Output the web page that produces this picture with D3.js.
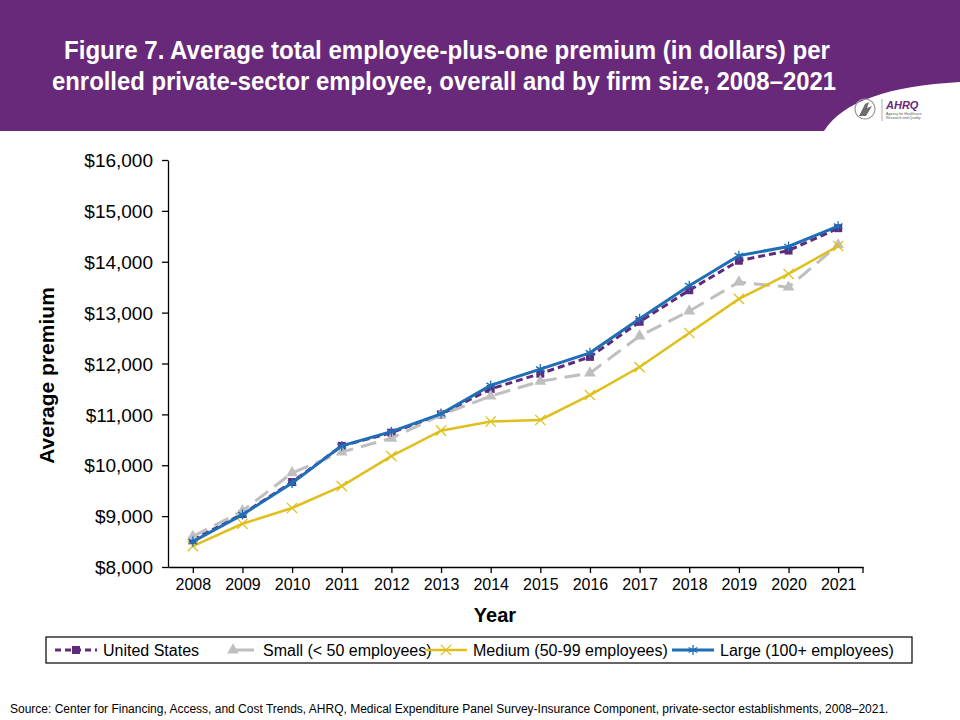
<!DOCTYPE html>
<html>
<head>
<meta charset="utf-8">
<script src="https://cdn.jsdelivr.net/npm/d3@7"></script>
<style>
  body { margin: 0; background: #fff; }
  svg { display: block; font-family: "Liberation Sans", Arial, sans-serif; }
</style>
</head>
<body>
<svg width="960" height="720"></svg>
<script>
// ---- data ----
const years = [2008, 2009, 2010, 2011, 2012, 2013, 2014, 2015, 2016, 2017, 2018, 2019, 2020, 2021];
const usValues     = [8530, 9040, 9670, 10380, 10640, 11000, 11500, 11800, 12130, 12820, 13440, 14020, 14220, 14660];
const smallValues  = [8600, 9100, 9850, 10260, 10530, 10990, 11360, 11650, 11810, 12540, 13030, 13600, 13500, 14330];
const mediumValues = [8410, 8850, 9160, 9590, 10180, 10680, 10860, 10890, 11380, 11930, 12600, 13270, 13760, 14310];
const largeValues  = [8500, 9030, 9650, 10380, 10660, 11010, 11570, 11890, 12210, 12880, 13530, 14120, 14300, 14700];
const yTicks = [8000, 9000, 10000, 11000, 12000, 13000, 14000, 15000, 16000];
const seriesNames = ["United States", "Small (< 50 employees)", "Medium (50-99 employees)", "Large (100+ employees)"];

const titleLines = [
  "Figure 7. Average total employee-plus-one premium (in dollars) per",
  "enrolled private-sector employee, overall and by firm size, 2008\u20132021"
];
const sourceText = "Source: Center for Financing, Access, and Cost Trends, AHRQ, Medical Expenditure Panel Survey-Insurance Component, private-sector establishments, 2008\u20132021.";

const svg = d3.select("svg");
const W = +svg.attr("width");

// ---- header band ----
const purple = "#68297a";
svg.append("rect").attr("x", 0).attr("y", 0).attr("width", W).attr("height", 131).attr("fill", purple);
svg.append("path").attr("d", "M824,131 C842,102 888,86 960,82 L960,131 Z").attr("fill", "#fff");

// title is a condensed bold face in the original -> squeeze to its width
const titleWidths = [766, 784];
svg.append("g").selectAll("text").data(titleLines).join("text")
  .attr("x", (d, i) => i === 0 ? 447 : 444).attr("y", (d, i) => 59 + i * 31)
  .attr("text-anchor", "middle")
  .attr("fill", "#fff")
  .attr("textLength", (d, i) => titleWidths[i])
  .attr("lengthAdjust", "spacingAndGlyphs")
  .style("font-weight", "bold").style("font-size", "25px")
  .text(d => d);

// small AHRQ logo
const logo = svg.append("g").attr("transform", "translate(853,96)");
logo.append("circle").attr("cx", 12).attr("cy", 13).attr("r", 10).attr("fill", "none").attr("stroke", "#9a9a9a").attr("stroke-width", 1.2);
logo.append("path").attr("d", "M6,20 L12,8 L16,6 L14,12 L19,10 L13,20 Z").attr("fill", "#6d6d6d");
logo.append("line").attr("x1", 29).attr("x2", 29).attr("y1", 3).attr("y2", 25).attr("stroke", "#aaa");
logo.append("text").attr("x", 33).attr("y", 13).attr("fill", purple)
  .style("font-weight", "bold").style("font-style", "italic").style("font-size", "11px").text("AHRQ");
logo.append("text").attr("x", 33).attr("y", 19).attr("fill", "#555").style("font-size", "3.6px").text("Agency for Healthcare");
logo.append("text").attr("x", 33).attr("y", 23).attr("fill", "#555").style("font-size", "3.6px").text("Research and Quality");

// ---- chart ----
const plot = {left: 168, right: 863, top: 160, bottom: 567};

const x = d3.scalePoint().domain(years).range([plot.left, plot.right]).padding(0.5);
const y = d3.scaleLinear().domain([8000, 16000]).range([plot.bottom, plot.top]);

const yAxis = d3.axisLeft(y).tickValues(yTicks).tickSize(6).tickSizeOuter(0)
  .tickFormat(d => "$" + d3.format(",")(d));
const gy = svg.append("g").attr("transform", `translate(${plot.left},0)`).call(yAxis);
gy.selectAll("text").style("font-size", "19px").attr("fill", "#000").attr("x", -15).attr("dy", "0.35em");
gy.selectAll("line, path").attr("stroke", "#000").attr("stroke-width", 1.3);

const xAxis = d3.axisBottom(x).tickSize(6).tickSizeOuter(0);
const gx = svg.append("g").attr("transform", `translate(0,${plot.bottom})`).call(xAxis);
gx.selectAll("text").style("font-size", "16px").attr("fill", "#000").attr("y", 12);
gx.selectAll("line, path").attr("stroke", "#000").attr("stroke-width", 1.3);
gx.append("line").attr("x1", x.range()[1]).attr("x2", x.range()[1]).attr("y1", 0).attr("y2", 6)
  .attr("stroke", "#000").attr("stroke-width", 1.3);

svg.append("text").attr("x", 495).attr("y", 622).attr("text-anchor", "middle")
  .style("font-weight", "bold").style("font-size", "20px").text("Year");
svg.append("text").attr("transform", `translate(54,${(plot.top + plot.bottom) / 2 + 12}) rotate(-90)`)
  .attr("text-anchor", "middle").style("font-weight", "bold").style("font-size", "21px").text("Average premium");

const series = [
  {name: seriesNames[0], values: usValues, color: "#5f2b7e", dash: "7,4", width: 3, symbol: d3.symbolSquare, size: 64, fillSym: true},
  {name: seriesNames[1], values: smallValues, color: "#bfbfbf", dash: "16,8", width: 3, symbol: d3.symbolTriangle, size: 60, fillSym: true},
  {name: seriesNames[2], values: mediumValues, color: "#e0bf1c", dash: null, width: 2.5, symbol: d3.symbolTimes, size: 70, fillSym: false},
  {name: seriesNames[3], values: largeValues, color: "#1f6fb6", dash: null, width: 3, symbol: d3.symbolAsterisk, size: 70, fillSym: false}
];

const line = d3.line().x((d, i) => x(years[i])).y(d => y(d));

series.forEach(s => {
  const g = svg.append("g");
  g.append("path").attr("d", line(s.values)).attr("fill", "none")
    .attr("stroke", s.color).attr("stroke-width", s.width)
    .attr("stroke-dasharray", s.dash);
  g.selectAll("path.m").data(s.values).join("path").attr("class", "m")
    .attr("transform", (d, i) => `translate(${x(years[i])},${y(d)})`)
    .attr("d", d3.symbol(s.symbol, s.size))
    .attr("fill", s.fillSym ? s.color : "none")
    .attr("stroke", s.color).attr("stroke-width", s.fillSym ? 0 : 1.3);
});

// ---- legend ----
const lg = svg.append("g");
lg.append("rect").attr("x", 46).attr("y", 637).attr("width", 866).attr("height", 26)
  .attr("fill", "#fff").attr("stroke", "#000").attr("stroke-width", 1.2);
const legendX = [55, 212, 425, 672];
series.forEach((s, i) => {
  const g = lg.append("g").attr("transform", `translate(${legendX[i]},650)`);
  g.append("line").attr("x1", 0).attr("x2", 42).attr("stroke", s.color).attr("stroke-width", s.width)
    .attr("stroke-dasharray", s.dash ? (i === 0 ? "6,4" : "0,22,20") : null);
  g.append("path").attr("transform", "translate(21,0)").attr("d", d3.symbol(s.symbol, s.size))
    .attr("fill", s.fillSym ? s.color : "none").attr("stroke", s.color).attr("stroke-width", s.fillSym ? 0 : 1.3);
  g.append("text").attr("x", i === 1 ? 51 : 48).attr("y", 6).style("font-size", "16px").text(s.name);
});

svg.append("text").attr("x", 10).attr("y", 713).style("font-size", "12px").text(sourceText);
</script>
</body>
</html>
